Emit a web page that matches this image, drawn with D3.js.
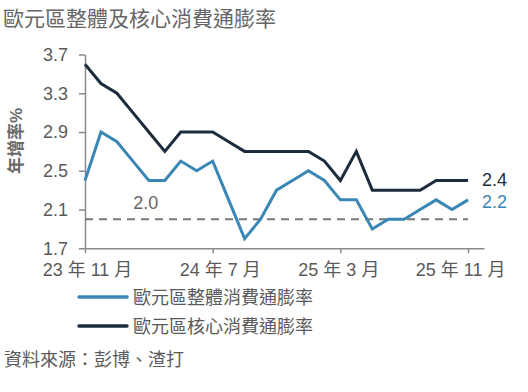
<!DOCTYPE html>
<html><head><meta charset="utf-8">
<script src="https://cdn.jsdelivr.net/npm/d3@7"></script>
<style>
html,body{margin:0;padding:0;background:#fff;}
svg text{font-family:"Liberation Sans",Arial,"Noto Sans CJK TC",sans-serif;}
</style></head>
<body>
<svg id="c" width="528" height="392"></svg>
<script>
const months = ["2023-11","2023-12","2024-01","2024-02","2024-03","2024-04","2024-05","2024-06","2024-07","2024-08","2024-09","2024-10","2024-11","2024-12","2025-01","2025-02","2025-03","2025-04","2025-05","2025-06","2025-07","2025-08","2025-09","2025-10","2025-11"];
const headline = [2.4,2.9,2.8,2.6,2.4,2.4,2.6,2.5,2.6,2.2,1.8,2.0,2.3,2.4,2.5,2.4,2.2,2.2,1.9,2.0,2.0,2.1,2.2,2.1,2.2];
const core = [3.6,3.4,3.3,3.1,2.9,2.7,2.9,2.9,2.9,2.8,2.7,2.7,2.7,2.7,2.7,2.6,2.4,2.7,2.3,2.3,2.3,2.3,2.4,2.4,2.4];
const xTickIdx = [0,8,16,24];
const xTickLabels = ["23 年 11 月","24 年 7 月","25 年 3 月","25 年 11 月"];
const yTicks = [1.7,2.1,2.5,2.9,3.3,3.7];
const target = 2.0;
const seriesNames = ["歐元區整體消費通膨率","歐元區核心消費通膨率"];
const title = "歐元區整體及核心消費通膨率";
const yTitle = "年增率%";
const source = "資料來源：彭博、渣打";

const colors = ["#3a87b6","#1c2c3d"];
const svg = d3.select("#c");
const x = d3.scaleLinear().domain([0,25]).range([85,484]);
const y = d3.scaleLinear().domain([1.7,3.7]).range([248.3,54.5]);

svg.append("text").attr("x",3).attr("y",26).attr("font-size",21).attr("fill","#666").text(title);

// y axis
const ya = svg.append("g").attr("transform","translate(85,0)")
  .call(d3.axisLeft(y).tickValues(yTicks).tickFormat(d3.format(".1f")).tickSize(6).tickSizeOuter(0).tickPadding(11));
ya.select(".domain").attr("stroke","#8a8a8a").attr("stroke-width",1.5);
ya.selectAll(".tick line").attr("stroke","#8a8a8a").attr("stroke-width",1.5);
ya.selectAll(".tick text").attr("font-size",18).attr("fill","#5a5a5a").attr("font-family","Liberation Sans, Arial, sans-serif");

// x axis
const xLabelShift = [2,7,-2,-8];
const xa = svg.append("g").attr("transform","translate(0,248.3)")
  .call(d3.axisBottom(x).tickValues(xTickIdx).tickFormat((d,i)=>xTickLabels[i]).tickSize(5).tickSizeOuter(0).tickPadding(10));
xa.select(".domain").attr("stroke","#8a8a8a").attr("stroke-width",1.5);
xa.selectAll(".tick line").attr("stroke","#8a8a8a").attr("stroke-width",1.5);
xa.selectAll(".tick text").attr("font-size",18).attr("fill","#5a5a5a").attr("dx",(d,i)=>xLabelShift[i]);

// y title
svg.append("text").attr("transform","translate(22,141) rotate(-90)").attr("text-anchor","middle")
  .attr("font-size",17).attr("font-weight","bold").attr("fill","#6a6a6a").text(yTitle);

// target dashed line
svg.append("line").attr("x1",x(0)).attr("x2",x(months.length-1)).attr("y1",y(target)).attr("y2",y(target))
  .attr("stroke","#767676").attr("stroke-width",2).attr("stroke-dasharray","8,6");
svg.append("text").attr("x",x(3.8)).attr("y",y(target)-10).attr("text-anchor","middle").attr("font-size",18).attr("fill","#666").text(target.toFixed(1));

const line = d3.line().x((d,i)=>x(i)).y(d=>y(d));
[headline, core].forEach((s,k)=>{
  svg.append("path").datum(s).attr("d",line).attr("fill","none").attr("stroke",colors[k])
    .attr("stroke-width",3).attr("stroke-linejoin","miter");
});

// end labels
const last = months.length-1;
svg.append("text").attr("x",x(last)+14).attr("y",y(core[last])+6).attr("font-size",18).attr("fill",colors[1]).text(core[last].toFixed(1));
svg.append("text").attr("x",x(last)+14).attr("y",y(headline[last])+8.5).attr("font-size",18).attr("fill",colors[0]).text(headline[last].toFixed(1));

// legend
seriesNames.forEach((n,i)=>{
  const ly = 297 + i*29;
  svg.append("line").attr("x1",79).attr("x2",127).attr("y1",ly).attr("y2",ly).attr("stroke",colors[i]).attr("stroke-width",3.5).attr("stroke-linecap","round");
  svg.append("text").attr("x",133).attr("y",ly+6.5).attr("font-size",18).attr("fill","#5a5a5a").text(n);
});

svg.append("text").attr("x",4).attr("y",366).attr("font-size",18).attr("fill","#5a5a5a").text(source);
</script>
</body></html>
